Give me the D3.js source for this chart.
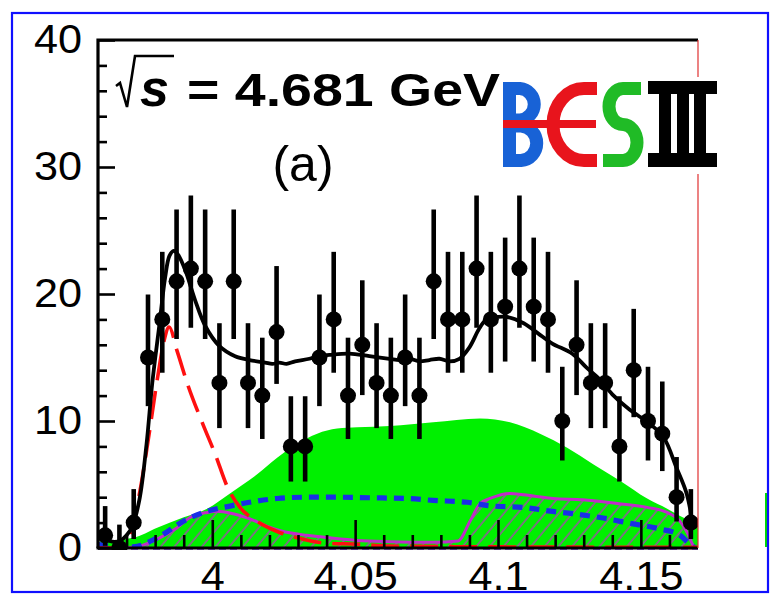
<!DOCTYPE html>
<html>
<head>
<meta charset="utf-8">
<script src="https://cdn.jsdelivr.net/npm/d3@7"></script>
<style>
  html, body { margin: 0; padding: 0; background: #ffffff; }
  svg { display: block; }
  text { font-family: "Liberation Sans", Arial, Helvetica, sans-serif; }
</style>
</head>
<body>
<svg id="chart" width="776" height="601"></svg>
<script>
// ---- data: recoil-mass spectrum at sqrt(s) = 4.681 GeV, 5 MeV bins ----
const massBins = [3.9625, 3.9675, 3.9725, 3.9775, 3.9825, 3.9875, 3.9925, 3.9975,
  4.0025, 4.0075, 4.0125, 4.0175, 4.0225, 4.0275, 4.0325, 4.0375, 4.0425, 4.0475,
  4.0525, 4.0575, 4.0625, 4.0675, 4.0725, 4.0775, 4.0825, 4.0875, 4.0925, 4.0975,
  4.1025, 4.1075, 4.1125, 4.1175, 4.1225, 4.1275, 4.1325, 4.1375, 4.1425, 4.1475,
  4.1525, 4.1575, 4.1625, 4.1675];
const counts = [1, 0, 2, 15, 18, 21, 22, 21, 13, 21, 13, 12, 17, 8, 8, 15, 18, 12, 16, 13,
  12, 15, 12, 21, 18, 18, 22, 18, 19, 22, 19, 18, 10, 16, 13, 13, 8, 14, 10, 9, 4, 2];

// Poisson 68.3% (Garwood) interval half-widths, indexed by observed count
const poissonLow  = [0, 0.827, 1.292, 1.633, 1.914, 2.160, 2.380, 2.581, 2.768, 2.943,
  3.109, 3.266, 3.415, 3.559, 3.700, 3.830, 3.960, 4.080, 4.200, 4.320, 4.430, 4.550, 4.650];
const poissonHigh = [1.841, 2.300, 2.638, 2.918, 3.163, 3.382, 3.584, 3.770, 3.950, 4.110,
  4.270, 4.420, 4.560, 4.700, 4.830, 4.960, 5.080, 5.200, 5.320, 5.440, 5.550, 5.660, 5.760];

// total fit
const totalMass = [3.961, 3.963, 3.965, 3.968, 3.970, 3.972, 3.9745, 3.977, 3.979, 3.9815,
  3.9835, 3.985, 3.9865, 3.988, 3.9905, 3.994, 3.9975, 4.0025, 4.008, 4.013, 4.0185,
  4.021, 4.0235, 4.026, 4.029, 4.034, 4.037, 4.041, 4.048, 4.055, 4.062, 4.0655, 4.069,
  4.0725, 4.076, 4.0795, 4.083, 4.0865, 4.090, 4.0935, 4.096, 4.100, 4.103, 4.109, 4.114,
  4.119, 4.126, 4.131, 4.1355, 4.140, 4.146, 4.153, 4.158, 4.1625, 4.166, 4.168];
const totalFit = [1.1, 0.7, 0.5, 0.6, 1.0, 1.7, 3.8, 8.2, 13.0, 17.6,
  21.3, 23.0, 23.4, 23.1, 21.9, 19.5, 17.5, 15.9, 15.1, 14.8, 14.6,
  14.5, 14.6, 14.5, 14.7, 14.9, 15.1, 15.2, 15.3, 15.1, 14.9, 14.8, 14.9,
  14.7, 14.8, 14.9, 14.7, 14.9, 15.8, 17.3, 18.0, 18.2, 18.2, 17.7, 16.9,
  16.1, 15.3, 14.2, 13.3, 12.1, 10.9, 9.8, 8.7, 6.3, 4.3, 2.1];

// green filled component
const greenMass = [3.960, 3.9723, 3.9807, 3.9898, 3.9982, 4.0062, 4.0157, 4.0227, 4.0297,
  4.0367, 4.0437, 4.0507, 4.0622, 4.0773, 4.0937, 4.1042, 4.1147, 4.1242, 4.1333,
  4.1427, 4.1522, 4.1592, 4.1648, 4.170];
const greenFit = [0.5, 0.8, 1.6, 2.4, 3.1, 4.3, 5.8, 7.1, 8.2,
  9.0, 9.4, 9.5, 9.6, 9.9, 10.2, 9.9, 9.0, 7.9, 6.6,
  5.3, 3.9, 3.1, 2.4, 1.9];

// blue dashed component
const blueMass = [3.960, 3.9677, 3.9723, 3.9807, 3.9898, 3.9982, 4.0062, 4.0157, 4.0227,
  4.0332, 4.0437, 4.0563, 4.0682, 4.0773, 4.0892, 4.0983, 4.1088, 4.1182, 4.1263,
  4.1357, 4.1473, 4.1567, 4.1637, 4.1672, 4.169];
const blueFit = [0.3, 0.1, 0.1, 0.8, 2.1, 2.9, 3.3, 3.7, 3.9,
  4.0, 4.0, 3.95, 3.9, 3.75, 3.6, 3.3, 3.2, 2.9, 2.7,
  2.4, 1.9, 1.5, 1.0, 0.3, 0.0];

// magenta hatched component
const magentaMass = [3.960, 3.9723, 3.9807, 3.9877, 3.9922, 3.9982, 4.0017, 4.0073, 4.0132,
  4.0192, 4.0248, 4.0332, 4.0412, 4.0507, 4.0622, 4.0773, 4.0860, 4.0902, 4.0937,
  4.0972, 4.1042, 4.1123, 4.1193, 4.1298, 4.1417, 4.1522, 4.1592, 4.1637, 4.1665,
  4.1683, 4.169];
const magentaFit = [0.0, 0.05, 0.7, 1.6, 2.4, 2.8, 2.9, 2.7, 2.3,
  1.7, 1.3, 1.0, 0.8, 0.6, 0.5, 0.45, 0.55, 2.1, 3.5,
  3.9, 4.3, 4.1, 3.9, 3.8, 3.5, 3.2, 2.8, 2.1, 1.1,
  0.2, 0.0];

// red long-dashed resonance component
const redMass = [3.960, 3.966, 3.9702, 3.9723, 3.9747, 3.9775, 3.9807, 3.9831, 3.9849,
  3.9877, 3.9915, 3.9968, 4.0010, 4.0055, 4.0097, 4.0157, 4.0227, 4.0297, 4.0388,
  4.0507, 4.0622, 4.0867, 4.170];
const redFit = [0.0, 0.0, 0.6, 2.0, 4.5, 8.4, 13.2, 16.3, 17.4,
  15.5, 12.8, 9.7, 7.4, 4.7, 3.2, 2.1, 1.3, 0.8, 0.4,
  0.3, 0.15, 0.1, 0.05];

// axis ticks and labels
const xMajorTicks = [4.00, 4.05, 4.10, 4.15];
const xTickLabels = ["4", "4.05", "4.1", "4.15"];
const xMinorTicks = [3.97, 3.98, 3.99, 4.01, 4.02, 4.03, 4.04, 4.06, 4.07, 4.08, 4.09,
  4.11, 4.12, 4.13, 4.14, 4.16];
const yMajorTicks = [0, 10, 20, 30, 40];
const yTickLabels = ["0", "10", "20", "30", "40"];
const yMinorTicks = [2, 4, 6, 8, 12, 14, 16, 18, 22, 24, 26, 28, 32, 34, 36, 38];

// ---- drawing ----
const svg = d3.select("#chart");
const x = d3.scaleLinear().domain([3.96, 4.17]).range([98, 698]);
const y = d3.scaleLinear().domain([0, 40]).range([548, 40]);

const defs = svg.append("defs");
defs.append("clipPath").attr("id", "page")
  .append("rect").attr("x", 13).attr("y", 14).attr("width", 754).attr("height", 577);
defs.append("clipPath").attr("id", "frame")
  .append("rect").attr("x", 98).attr("y", 40).attr("width", 600).attr("height", 510);
const hatch = defs.append("pattern").attr("id", "hatch")
  .attr("patternUnits", "userSpaceOnUse").attr("width", 10.5).attr("height", 10.5)
  .attr("patternTransform", "rotate(40)");
hatch.append("line").attr("x1", 2).attr("y1", 0).attr("x2", 2).attr("y2", 10.5)
  .attr("stroke", "#c02cc8").attr("stroke-width", 1.2);

svg.append("rect").attr("width", 776).attr("height", 601).attr("fill", "#ffffff");

const page = svg.append("g").attr("clip-path", "url(#page)");
const plot = page.append("g").attr("clip-path", "url(#frame)");

const zip = (xs, ys) => xs.map((m, i) => [m, ys[i]]);
const smoothLine = d3.line().x(d => x(d[0])).y(d => y(d[1])).curve(d3.curveMonotoneX);
const smoothArea = d3.area().x(d => x(d[0])).y0(y(0)).y1(d => y(d[1])).curve(d3.curveMonotoneX);

// green component (filled)
plot.append("path").attr("d", smoothArea(zip(greenMass, greenFit)))
  .attr("fill", "#00f000");

// magenta component: hatched area and outline
plot.append("path").attr("d", smoothArea(zip(magentaMass, magentaFit)))
  .attr("fill", "url(#hatch)");
plot.append("path").attr("d", smoothLine(zip(magentaMass, magentaFit)))
  .attr("fill", "none").attr("stroke", "#c02cc8").attr("stroke-width", 3);

// blue dashed component
plot.append("path").attr("d", smoothLine(zip(blueMass, blueFit)))
  .attr("fill", "none").attr("stroke", "#1a2ee6").attr("stroke-width", 5.2)
  .attr("stroke-dasharray", "10,7");

// red long-dashed component
plot.append("path").attr("d", smoothLine(zip(redMass, redFit)))
  .attr("fill", "none").attr("stroke", "#ff1010").attr("stroke-width", 3.6)
  .attr("stroke-dasharray", "28,11");

// zero-level dashed line
plot.append("line").attr("x1", x(3.96)).attr("x2", x(4.17))
  .attr("y1", y(0) + 2).attr("y2", y(0) + 2)
  .attr("stroke", "#a060ee").attr("stroke-width", 3).attr("stroke-dasharray", "7,4");

// total fit
plot.append("path")
  .attr("d", d3.line().x(d => x(d[0])).y(d => y(d[1])).curve(d3.curveCatmullRom.alpha(0.5))(zip(totalMass, totalFit)))
  .attr("fill", "none").attr("stroke", "#000000").attr("stroke-width", 3.8)
  .attr("stroke-linejoin", "round");

// data points with asymmetric Poisson errors
const pts = plot.append("g");
massBins.forEach((m, i) => {
  const n = counts[i];
  pts.append("line")
    .attr("x1", x(m)).attr("x2", x(m))
    .attr("y1", y(n - poissonLow[n])).attr("y2", y(n + poissonHigh[n]))
    .attr("stroke", "#000000").attr("stroke-width", 4.6);
  pts.append("circle").attr("cx", x(m)).attr("cy", y(n)).attr("r", 8)
    .attr("fill", "#000000");
});

// axes (ROOT style: ticks pointing into the frame)
const labelFont = 40;
const xAxis = page.append("g").attr("transform", `translate(0,${y(0)})`)
  .call(d3.axisBottom(x).tickValues(xMajorTicks).tickSize(-28).tickPadding(14)
    .tickFormat((d, i) => xTickLabels[i]));
const xMinor = page.append("g").attr("transform", `translate(0,${y(0)})`)
  .call(d3.axisBottom(x).tickValues(xMinorTicks).tickSize(-13).tickFormat(""));
const yAxis = page.append("g").attr("transform", `translate(${x(3.96)},0)`)
  .call(d3.axisLeft(y).tickValues(yMajorTicks).tickSize(-17).tickPadding(16)
    .tickFormat((d, i) => yTickLabels[i]));
const yMinor = page.append("g").attr("transform", `translate(${x(3.96)},0)`)
  .call(d3.axisLeft(y).tickValues(yMinorTicks).tickSize(-9).tickFormat(""));

[xAxis, xMinor, yAxis, yMinor].forEach(g => {
  g.select(".domain").remove();
  g.selectAll(".tick line").attr("stroke", "#000000").attr("stroke-width", 2.6);
  g.selectAll(".tick text")
    .attr("fill", "#000000")
    .style("font-family", '"Liberation Sans", Arial, sans-serif')
    .style("font-size", labelFont + "px");
});
// slightly wide axis numerals
[xAxis, yAxis].forEach(g => {
  g.selectAll(".tick text").each(function () {
    const w = this.getComputedTextLength();
    d3.select(this).attr("textLength", w * 1.08).attr("lengthAdjust", "spacingAndGlyphs");
  });
});

// frame
page.append("path")
  .attr("d", `M${x(3.96)},${y(0)} V${y(40)} H${x(4.17)}`)
  .attr("fill", "none").attr("stroke", "#000000").attr("stroke-width", 3.2);
page.append("line").attr("x1", x(3.96) - 1.5).attr("x2", x(4.17))
  .attr("y1", y(0)).attr("y2", y(0))
  .attr("stroke", "#000000").attr("stroke-width", 3.2);
page.append("line").attr("x1", x(4.17)).attr("x2", x(4.17))
  .attr("y1", y(40)).attr("y2", y(0))
  .attr("stroke", "#e03030").attr("stroke-width", 1.2);

// energy label
page.append("path")
  .attr("d", "M116,86 L120,83 L127,107 L135,56 L174,56")
  .attr("fill", "none").attr("stroke", "#000000").attr("stroke-width", 2.6);
page.append("text").attr("x", 140).attr("y", 106)
  .style("font-size", "52px").style("font-weight", "bold").style("font-style", "italic")
  .text("s");
page.append("text").attr("x", 187).attr("y", 106)
  .style("font-size", "46px").style("font-weight", "bold")
  .attr("textLength", 313).attr("lengthAdjust", "spacingAndGlyphs")
  .text("= 4.681 GeV");
page.append("text").attr("x", 303).attr("y", 181).attr("text-anchor", "middle")
  .style("font-size", "50px")
  .attr("textLength", 61).attr("lengthAdjust", "spacingAndGlyphs")
  .text("(a)");

// BESIII logo
const logo = page.append("g");
logo.append("rect").attr("x", 498).attr("y", 77).attr("width", 224).attr("height", 97)
  .attr("fill", "#ffffff");
// B
logo.append("path")
  .attr("d", "M509.5,82 V167 M509.5,88.5 H520 A15.5,15.8 0 0 1 520,120 H509.5 M509.5,126 H521 A17,17.3 0 0 1 521,160.5 H509.5")
  .attr("fill", "none").attr("stroke", "#1862d6").attr("stroke-width", 13);
// E (rounded)
logo.append("path")
  .attr("d", "M597,88.5 H584 A31,36 0 0 0 584,160.5 H597")
  .attr("fill", "none").attr("stroke", "#e8141c").attr("stroke-width", 13);
logo.append("rect").attr("x", 503).attr("y", 120).attr("width", 93).attr("height", 8)
  .attr("fill", "#e8141c");
// S
logo.append("path")
  .attr("d", "M641,88.5 H623 A14,18 0 0 0 623,124.5 A14,18 0 0 1 623,160.5 H603")
  .attr("fill", "none").attr("stroke", "#20bb26").attr("stroke-width", 13);
// III
logo.append("rect").attr("x", 648).attr("y", 81).attr("width", 69).attr("height", 13).attr("fill", "#000000");
logo.append("rect").attr("x", 648).attr("y", 153).attr("width", 69).attr("height", 14).attr("fill", "#000000");
[659, 677, 694].forEach(sx => {
  logo.append("rect").attr("x", sx).attr("y", 90).attr("width", 12).attr("height", 68).attr("fill", "#000000");
});

// small green mark at the right border
page.append("line").attr("x1", 766).attr("x2", 766).attr("y1", 493).attr("y2", 547)
  .attr("stroke", "#00dd00").attr("stroke-width", 2);

// outer border
svg.append("rect").attr("x", 12).attr("y", 13).attr("width", 756).attr("height", 579)
  .attr("fill", "none").attr("stroke", "#1010ff").attr("stroke-width", 2.2);
</script>
</body>
</html>
